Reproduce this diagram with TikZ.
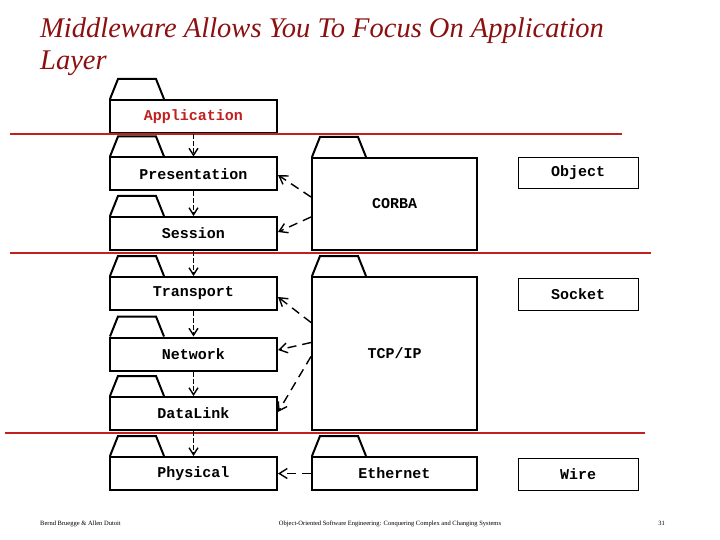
\documentclass[tikz,border=0pt]{standalone}
\usepackage{fontspec}
\setmainfont{Liberation Serif}
\setmonofont{Liberation Mono}
\usetikzlibrary{arrows.meta}
\definecolor{titlered}{HTML}{8B1010}
\definecolor{linered}{HTML}{C02020}
\begin{document}
\begin{tikzpicture}[x=1pt,y=-1pt,
  lbl/.style={font=\ttfamily\bfseries\fontsize{15}{16}\selectfont},
  layer/.style={draw,line width=2pt,minimum width=167pt,minimum height=33pt,inner sep=0pt,lbl},
  mid/.style={draw,line width=2pt,minimum width=165pt,inner sep=0pt,lbl},
  thin/.style={draw,line width=0.8pt,minimum width=120pt,minimum height=31pt,inner sep=0pt,lbl},
  sep/.style={draw=linered,line width=1.3pt},
  down/.style={dash pattern=on 5pt off 2pt,line width=1.4pt,-{Straight Barb[length=7pt,width=9pt,line width=1.4pt]}},
  dep/.style={dash pattern=on 9pt off 6pt,line width=1.4pt,-{Straight Barb[length=8pt,width=10pt,line width=1.4pt]}},
  tab/.style={line width=2pt}]
\useasboundingbox (0,0) rectangle (720,540);
\node[anchor=base west,font=\itshape\fontsize{28.5}{30}\selectfont,text=titlered,inner sep=0pt] (t1) at (40,38) {Middleware Allows You To Focus On Application};
\node[anchor=base west,font=\itshape\fontsize{28.5}{30}\selectfont,text=titlered,inner sep=0pt] (t2) at (40,70) {Layer};
% left stack
\foreach \n/\t/\y in {app/Application/116.5, pre/Presentation/174, ses/Session/233.5, tra/Transport/293.5, net/Network/354, dat/DataLink/413.5, phy/Physical/473.5}{
  \node[layer] (\n) at (193.5,\y) {\t};
  \draw[tab] ([xshift=1pt]\n.north west) -- ++(8,-20) -- ++(38,0) -- ++(8,20);
}
\node[lbl,text=linered,fill=white,inner sep=1pt] at (app) {Application};
% middle
\node[mid,minimum height=92pt] (cor) at (394.5,204) {CORBA};
\node[mid,minimum height=153pt] (tcp) at (394.5,353.5) {TCP/IP};
\node[mid,minimum height=33pt] (eth) at (394.5,473.5) {Ethernet};
\foreach \n in {cor,tcp,eth}{
  \draw[tab] ([xshift=1pt]\n.north west) -- ++(8,-20) -- ++(38,0) -- ++(8,20);
}
% right
\node[thin] (obj) at (578,173) {Object};
\node[thin,minimum height=32pt] (soc) at (578,294) {Socket};
\node[thin,minimum height=32pt] (wir) at (578,474) {Wire};
% separators
\coordinate (s1a) at (10,134); \coordinate (s1b) at (622,134);
\coordinate (s2a) at (10,253); \coordinate (s2b) at (651,253);
\coordinate (s3a) at (5,433); \coordinate (s3b) at (645,433);
\draw[sep] (s1a) -- (s1b);
\draw[sep] (s2a) -- (s2b);
\draw[sep] (s3a) -- (s3b);
% vertical arrows
\draw[down] (app.south) -- (pre.north);
\draw[down] (pre.south) -- (ses.north);
\draw[down] (ses.south) -- (tra.north);
\draw[down] (tra.south) -- (net.north);
\draw[down] (net.south) -- (dat.north);
\draw[down] (dat.south) -- (phy.north);
% dependencies
\draw[dep] ([yshift=7pt]cor.west) -- ([yshift=-1pt]pre.east);
\draw[dep] ([yshift=-13pt]cor.west) -- ([yshift=1.5pt]ses.east);
\draw[dep] ([yshift=31pt]tcp.west) -- ([yshift=-3.5pt]tra.east);
\draw[dep] ([yshift=11pt]tcp.west) -- ([yshift=4pt]net.east);
\draw[dep] ([yshift=-3pt]tcp.west) -- ([yshift=1.5pt]dat.east);
\draw[dep] (eth.west) -- (phy.east);
% footer
\node[anchor=base west,font=\fontsize{6.5}{7}\selectfont,inner sep=0pt] (f1) at (40,525) {Bernd Bruegge \& Allen Dutoit};
\node[anchor=base,font=\fontsize{6.5}{7}\selectfont,inner sep=0pt] (f2) at (390,525) {Object-Oriented Software Engineering: Conquering Complex and Changing Systems};
\node[anchor=base east,font=\fontsize{6.5}{7}\selectfont,inner sep=0pt] (f3) at (665,525) {31};
\end{tikzpicture}
\end{document}
